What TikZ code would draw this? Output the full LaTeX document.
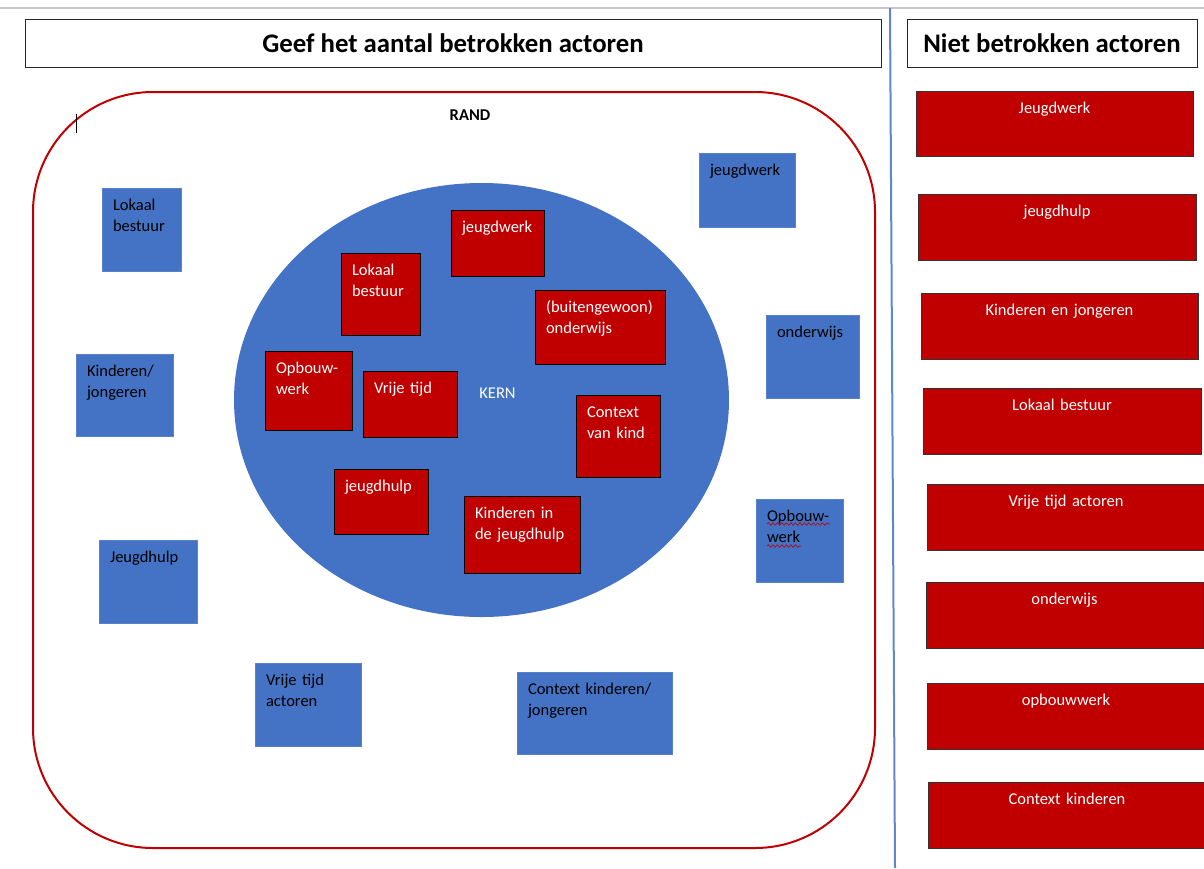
\documentclass[tikz,border=0pt]{standalone}
\usepackage{fontspec}
\setmainfont{Carlito}
\usetikzlibrary{shapes.geometric,decorations.pathmorphing}
\definecolor{kblauw}{RGB}{68,114,196}
\definecolor{kblauwrand}{RGB}{88,130,205}
\definecolor{krood}{RGB}{192,0,0}
\begin{document}
\begin{tikzpicture}[x=1pt,y=-1pt,
        font=\fontsize{16.5}{21}\selectfont,
        vak/.style 2 args={rectangle,inner xsep=11pt,inner ysep=10pt,
            text width=#1pt-22pt,text height=12pt,text depth=#2pt-32pt},
        randvak/.style 2 args={vak={#1}{#2},fill=kblauw,draw=kblauwrand,line width=0.8pt,align=left,text=black},
        kernvak/.style 2 args={vak={#1}{#2},fill=krood,draw=black,line width=1pt,align=left,text=white},
        nietvak/.style 2 args={vak={#1}{#2},fill=krood,draw=black!80,line width=1pt,align=center,text=white},
        kop/.style={draw=black!85,line width=0.8pt,minimum height=48pt,inner sep=0pt,
            font=\fontsize{26.8}{30}\selectfont\bfseries}]
    \useasboundingbox (0,0) rectangle (1204,868);
    % lijnen bovenaan en scheiding
    \coordinate (lijnL) at (0,8);
    \coordinate (lijnR) at (1204,8);
    \coordinate (scheidO) at (890,8);
    \coordinate (scheidB) at (895,868);
    \draw[black!22,line width=1.5pt] (lijnL) -- (lijnR);
    \draw[kblauw!85,line width=2pt] (scheidO) -- (scheidB);
    % titels
    \node[kop,minimum width=856pt] (titel) at (453,43) {Geef het aantal betrokken actoren};
    \node[kop,minimum width=290pt] (titelniet) at (1052,43) {Niet betrokken actoren};
    % rand en kern
    \node[draw=krood,line width=2pt,rounded corners=120pt,minimum width=842pt,minimum height=756pt] (randveld) at (454,470) {};
    \node[font=\fontsize{16.5}{21}\selectfont\bfseries] (randtxt) at (470,115) {RAND};
    \coordinate (cursO) at (76,114);
    \coordinate (cursB) at (76,133);
    \draw[line width=1pt] (cursO) -- (cursB);
    \node[ellipse,fill=kblauw,minimum width=495pt,minimum height=434pt,inner sep=0pt] (kernveld) at (481.5,400) {};
    \node[text=white] (kerntxt) at (497.5,393) {KERN};
    % actoren in de kern
    \node[kernvak={93}{66}] (kjw) at (497.5,243) {jeugdwerk};
    \node[kernvak={79}{82}] (klb) at (380.5,294) {Lokaal\\bestuur};
    \node[kernvak={130}{74}] (kond) at (600,327) {(buitengewoon)\\onderwijs};
    \node[kernvak={87}{79}] (kopb) at (308.5,390.5) {Opbouw-\\werk};
    \node[kernvak={94}{66}] (kvt) at (410,404) {Vrije tijd};
    \node[kernvak={84}{82}] (kctx) at (618,436) {Context\\van kind};
    \node[kernvak={94}{65}] (kjh) at (381,501.5) {jeugdhulp};
    \node[kernvak={116}{77}] (kkin) at (522,534.5) {Kinderen in\\de jeugdhulp};
    % actoren in de rand
    \node[randvak={79}{83}] (rlb) at (141.5,229.5) {Lokaal\\bestuur};
    \node[randvak={97}{82}] (rkj) at (124.5,395) {Kinderen/\\jongeren};
    \node[randvak={98}{83}] (rjh) at (148,581.5) {Jeugdhulp};
    \node[randvak={106}{83}] (rvt) at (308,704.5) {Vrije tijd\\actoren};
    \node[randvak={155}{82}] (rctx) at (594.5,713) {Context kinderen/\\jongeren};
    \node[randvak={96}{74}] (rjw) at (747,190) {jeugdwerk};
    \node[randvak={93}{83}] (rond) at (812.5,356.5) {onderwijs};
    \node[randvak={87}{83}] (ropb) at (799.5,540.5) {Opbouw-\\werk};
    \coordinate (golf1a) at (767,524);
    \coordinate (golf1b) at (830,524);
    \coordinate (golf2a) at (767,546);
    \coordinate (golf2b) at (801,546);
    \draw[krood,line width=0.6pt,decorate,decoration={snake,amplitude=1.3pt,segment length=4.5pt}] (golf1a) -- (golf1b);
    \draw[krood,line width=0.6pt,decorate,decoration={snake,amplitude=1.3pt,segment length=4.5pt}] (golf2a) -- (golf2b);
    % niet betrokken
    \node[nietvak={277}{65}] (n1) at (1054.5,123.5) {Jeugdwerk};
    \node[nietvak={278}{66}] (n2) at (1057,227) {jeugdhulp};
    \node[nietvak={277}{66}] (n3) at (1059.5,326) {Kinderen en jongeren};
    \node[nietvak={278}{66}] (n4) at (1062,421) {Lokaal bestuur};
    \node[nietvak={278}{66}] (n5) at (1066,517) {Vrije tijd actoren};
    \node[nietvak={277}{66}] (n6) at (1064.5,615) {onderwijs};
    \node[nietvak={278}{66}] (n7) at (1066,716) {opbouwwerk};
    \node[nietvak={278}{66}] (n8) at (1067,815) {Context kinderen};
\end{tikzpicture}
\end{document}
